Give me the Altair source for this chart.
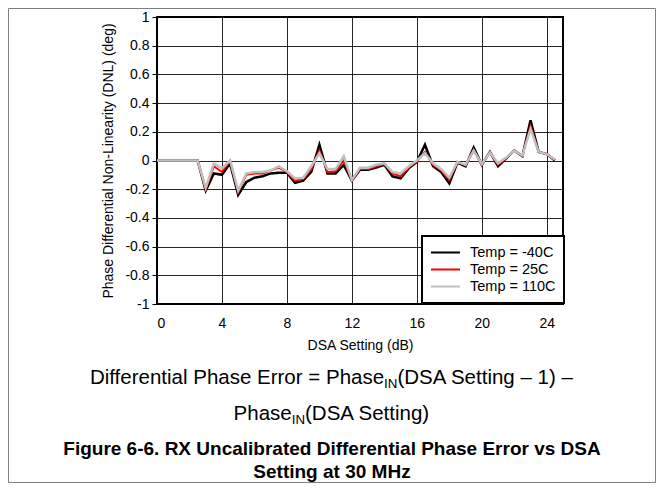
import altair as alt
import pandas as pd

dsa_db = [0, 0.5, 1, 1.5, 2, 2.5, 3, 3.5, 4, 4.5, 5, 5.5, 6, 6.5, 7, 7.5, 8, 8.5, 9, 9.5,
          10, 10.5, 11, 11.5, 12, 12.5, 13, 13.5, 14, 14.5, 15, 15.5, 16, 16.5, 17, 17.5,
          18, 18.5, 19, 19.5, 20, 20.5, 21, 21.5, 22, 22.5, 23, 23.5, 24, 24.5]
dnl_m40 = [0, 0, 0, 0, 0, 0, -0.21, -0.09, -0.10, -0.02, -0.24, -0.15, -0.12, -0.11, -0.09, -0.085,
           -0.085, -0.155, -0.14, -0.08, 0.11, -0.09, -0.09, -0.03, -0.14, -0.065, -0.065, -0.05,
           -0.03, -0.11, -0.125, -0.055, -0.01, 0.11, -0.04, -0.08, -0.16, -0.015, -0.04, 0.09,
           -0.03, 0.06, -0.04, 0.015, 0.07, 0.03, 0.28, 0.06, 0.045, 0.0]
dnl_25 = [0, 0, 0, 0, 0, 0, -0.20, -0.04, -0.08, 0.0, -0.22, -0.10, -0.09, -0.09, -0.07, -0.05,
          -0.08, -0.14, -0.13, -0.06, 0.07, -0.08, -0.075, 0.0, -0.14, -0.06, -0.06, -0.04,
          -0.025, -0.09, -0.11, -0.05, -0.005, 0.06, -0.03, -0.07, -0.135, -0.01, -0.035, 0.07,
          -0.03, 0.06, -0.03, 0.015, 0.07, 0.035, 0.24, 0.06, 0.045, 0.005]
dnl_110 = [0, 0, 0, 0, 0, 0, -0.19, -0.02, -0.055, 0.0, -0.21, -0.09, -0.08, -0.08, -0.07, -0.04,
           -0.075, -0.125, -0.12, -0.04, 0.05, -0.06, -0.06, 0.03, -0.135, -0.05, -0.05, -0.03,
           -0.02, -0.08, -0.09, -0.04, 0.0, 0.05, -0.02, -0.06, -0.12, -0.01, -0.03, 0.07,
           -0.025, 0.055, -0.02, 0.02, 0.07, 0.035, 0.22, 0.06, 0.045, 0.005]

series_names = ["Temp = -40C", "Temp = 25C", "Temp = 110C"]
series_colors = ["#000000", "#ff0000", "#c0c0c0"]
series_widths = [2.5, 2.0, 2.5]
x_ticks = [0, 4, 8, 12, 16, 20, 24]
y_ticks = [-1, -0.8, -0.6, -0.4, -0.2, 0, 0.2, 0.4, 0.6, 0.8, 1]

x_title = "DSA Setting (dB)"
y_title = "Phase Differential Non-Linearity (DNL) (deg)"
cap1_a = "Differential Phase Error = Phase"
cap1_b = "(DSA Setting \u2013 1) \u2013"
cap2_a = "Phase"
cap2_b = "(DSA Setting)"
sub_txt = "IN"
fig1 = "Figure 6-6. RX Uncalibrated Differential Phase Error vs DSA"
fig2 = "Setting at 30 MHz"

FONT = "Liberation Sans"

frames = []
for name, vals in zip(series_names, [dnl_m40, dnl_25, dnl_110]):
    frames.append(pd.DataFrame({"dsa": dsa_db, "dnl": vals, "temp": name}))
df = pd.concat(frames, ignore_index=True)

xs = alt.X("dsa:Q", scale=alt.Scale(domain=[0, 25], nice=False, zero=False),
           axis=alt.Axis(values=x_ticks, title=x_title, tickSize=0, labelPadding=12,
                         titlePadding=8, labelExpr="datum.value + ''"))
ys = alt.Y("dnl:Q", scale=alt.Scale(domain=[-1, 1], nice=False),
           axis=alt.Axis(values=y_ticks, title=y_title, tickSize=5, labelPadding=3,
                         titlePadding=9, labelExpr="datum.value + ''"))
color = alt.Color("temp:N", sort=series_names,
                  scale=alt.Scale(domain=series_names, range=series_colors),
                  legend=alt.Legend(title=None, orient="none", legendX=265, legendY=219,
                                    symbolType="stroke", symbolSize=841, symbolStrokeWidth=2,
                                    labelFontSize=14.5, labelOffset=9, padding=8,
                                    clipHeight=17, rowPadding=0, fillColor="white",
                                    strokeColor="black"))

layers = []
for name, w in zip(series_names, series_widths):
    layers.append(
        alt.Chart(df).transform_filter(alt.datum.temp == name)
        .mark_line(strokeWidth=w)
        .encode(x=xs, y=ys, color=color)
    )

one = pd.DataFrame({"k": [0]})

def txt(text, x, y, size=20.5, align="center", weight="normal"):
    return alt.Chart(one).mark_text(text=text, align=align, baseline="alphabetic",
                                    fontSize=size, fontWeight=weight, font=FONT,
                                    color="black").encode(x=alt.value(x), y=alt.value(y))

texts = [
    txt(cap1_a, 227.1, 367, align="right"),
    txt(sub_txt, 227.1, 371, size=13.3, align="left"),
    txt(cap1_b, 240.4, 367, align="left"),
    txt(cap2_a, 134.7, 403, align="right"),
    txt(sub_txt, 134.7, 407, size=13.3, align="left"),
    txt(cap2_b, 148.0, 403, align="left"),
    txt(fig1, 175, 438, size=19, weight="bold"),
    txt(fig2, 175, 461, size=19, weight="bold"),
]

border = alt.Chart(one).mark_rect(fill=None, stroke="#808080", strokeWidth=1).encode(
    x=alt.value(-148.5), x2=alt.value(498.5), y=alt.value(-8.5), y2=alt.value(465.5))

chart = alt.layer(*layers, *texts, border).properties(
    width=406, height=287,
    autosize=alt.AutoSizeParams(type="none"),
    padding={"left": 149, "top": 9, "right": 93, "bottom": 179},
).configure(font=FONT).configure_view(
    stroke="black", strokeWidth=2
).configure_axis(
    grid=True, gridColor="black", gridWidth=1, gridOpacity=0.85, domain=False,
    tickColor="black", labelColor="black", titleColor="black",
    labelFont=FONT, titleFont=FONT, labelFontSize=14, titleFontSize=14,
    titleFontWeight="normal"
).configure_legend(
    strokeWidth=2, labelFont=FONT, labelColor="black"
)

chart.save("out.html", embed_options={"renderer": "svg", "actions": False})
